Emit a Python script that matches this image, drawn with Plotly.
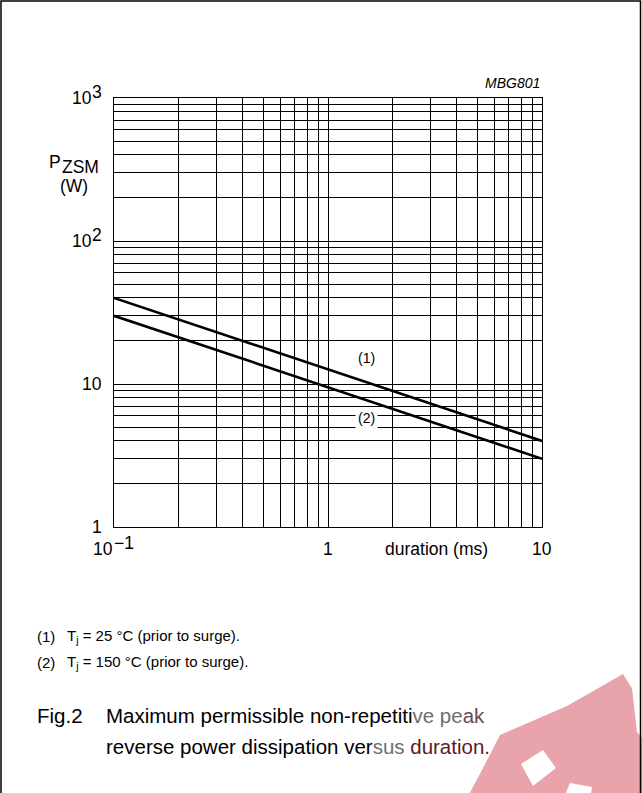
import numpy as np
import plotly.graph_objects as go

# ---- data ----
duration_ms = [0.1, 1, 10]
pzsm_25C = [40, 12.6, 4]
pzsm_150C = [30, 9.5, 3]
y_tick_labels = [(1000, "10", "3"), (100, "10", "2"), (10, "10", ""), (1, "1", "")]
x_tick_labels = [(0.1, "10", "\u22121"), (1, "1", ""), (10, "10", "")]
curve_labels = [(1.51, 15.1, "(1)"), (1.51, 5.74, "(2)")]

W, H = 642, 793
L, R, T, B = 114, 542, 98, 527  # plot area in px

def px(xp):
    return (xp - L) / (R - L)

def py(yp):
    return (B - yp) / (B - T)

FONT = "Liberation Sans, Arial, sans-serif"

ygrid = [d * 10 ** k for k in range(0, 3) for d in range(1, 10)] + [1000]
xgrid = [d * 10 ** k for k in range(-1, 1) for d in range(1, 10)] + [10]

fig = go.Figure()
for ys in (pzsm_25C, pzsm_150C):
    fig.add_trace(go.Scatter(x=duration_ms, y=ys, mode="lines",
                             line=dict(color="black", width=2.6),
                             hoverinfo="skip", showlegend=False))

axis_common = dict(type="log", showgrid=True, gridcolor="black", gridwidth=1,
                   showline=True, linecolor="black", linewidth=1, mirror=True,
                   showticklabels=False, ticks="", zeroline=False, fixedrange=True)
fig.update_xaxes(range=[-1, 1], tickvals=xgrid, **axis_common)
fig.update_yaxes(range=[0, 3], tickvals=ygrid, **axis_common)

ann = []
f16 = dict(family=FONT, size=17.5, color="black")
# y tick labels
for val, base, sup in y_tick_labels:
    if sup:
        ann.append(dict(xref="paper", yref="y", x=0, y=np.log10(val), text=base,
                        xanchor="right", yanchor="middle", xshift=-20, showarrow=False, font=f16))
        ann.append(dict(xref="paper", yref="y", x=0, y=np.log10(val), text=sup,
                        xanchor="right", yanchor="middle", xshift=-10, yshift=6, showarrow=False, font=f16))
    else:
        ann.append(dict(xref="paper", yref="y", x=0, y=np.log10(val), text=base,
                        xanchor="right", yanchor="middle", xshift=-10, showarrow=False, font=f16))
# x tick labels
for val, base, sup in x_tick_labels:
    if sup:
        ann.append(dict(xref="x", yref="paper", x=np.log10(val), y=0, text=base,
                        xanchor="right", yanchor="middle", xshift=1, yshift=-22, showarrow=False, font=f16))
        ann.append(dict(xref="x", yref="paper", x=np.log10(val), y=0, text=sup,
                        xanchor="left", yanchor="middle", xshift=-2, yshift=-16, showarrow=False, font=f16))
    else:
        ann.append(dict(xref="x", yref="paper", x=np.log10(val), y=0, text=base,
                        xanchor="center", yanchor="middle", yshift=-22, showarrow=False, font=f16))
ann.append(dict(xref="paper", yref="paper", x=px(436.5), y=0, text="duration (ms)",
                xanchor="center", yanchor="middle", yshift=-22, showarrow=False, font=f16))
# y title
ann.append(dict(xref="paper", yref="paper", x=px(47), y=py(162), text="P",
                xanchor="left", yanchor="middle", showarrow=False, font=f16))
ann.append(dict(xref="paper", yref="paper", x=px(60), y=py(167), text="ZSM",
                xanchor="left", yanchor="middle", showarrow=False, font=f16))
ann.append(dict(xref="paper", yref="paper", x=px(74), y=py(186), text="(W)",
                xanchor="center", yanchor="middle", showarrow=False, font=f16))
# MBG801
ann.append(dict(xref="paper", yref="paper", x=1, y=py(83), text="<i>MBG801</i>",
                xanchor="right", yanchor="middle", showarrow=False,
                font=dict(family=FONT, size=14, color="black")))
# curve labels
for xv, yv, txt in curve_labels:
    ann.append(dict(xref="x", yref="y", x=np.log10(xv), y=np.log10(yv), text=txt,
                    xanchor="center", yanchor="middle", showarrow=False, bgcolor="white",
                    borderpad=2, font=dict(family=FONT, size=14, color="black")))
# footnotes
f15 = dict(family=FONT, size=15, color="black")
notes = [(636, "(1)", "T<sub>j</sub> = 25 \u00b0C (prior to surge)."),
         (662, "(2)", "T<sub>j</sub> = 150 \u00b0C (prior to surge).")]
for yp, n, t in notes:
    ann.append(dict(xref="paper", yref="paper", x=px(35), y=py(yp), text=n,
                    xanchor="left", yanchor="middle", showarrow=False, font=f15))
    ann.append(dict(xref="paper", yref="paper", x=px(65), y=py(yp), text=t,
                    xanchor="left", yanchor="middle", showarrow=False, font=f15))
# caption (parts under the watermark are tinted as in the scan)
f20 = dict(family=FONT, size=20.5, color="black")
GRAY = "#6e6e6e"
DRED = "#5e1a22"
ann.append(dict(xref="paper", yref="paper", x=px(35), y=py(715), text="Fig.2",
                xanchor="left", yanchor="middle", showarrow=False, font=f20))
ann.append(dict(xref="paper", yref="paper", x=px(104), y=py(715),
                text=f"Maximum permissible non-repetiti<span style='color:{GRAY}'>ve pe</span>"
                     f"<span style='color:#6a4a4e'>ak</span>",
                xanchor="left", yanchor="middle", showarrow=False, font=f20))
ann.append(dict(xref="paper", yref="paper", x=px(104), y=py(746),
                text=f"reverse power dissipation ver<span style='color:{GRAY}'>sus</span> "
                     f"<span style='color:{DRED}'>duration.</span>",
                xanchor="left", yanchor="middle", showarrow=False, font=f20))

shapes = []
# frame
shapes.append(dict(type="path", xref="paper", yref="paper",
                   path=f"M {px(1)} {py(800)} L {px(1)} {py(1)} L {px(640.5)} {py(1)} L {px(640.5)} {py(800)}",
                   line=dict(color="black", width=1.5), layer="above"))

# watermark (approximate)
def poly(pts):
    return "M " + " L ".join(f"{px(a)} {py(b)}" for a, b in pts) + " Z"
RED = "#e9a3aa"
shapes.append(dict(type="path", xref="paper", yref="paper",
                   path=poly([(466, 800), (482, 770), (500, 735), (567, 706), (623, 674),
                              (633, 690), (642, 700), (642, 800)]),
                   fillcolor=RED, line=dict(width=0), layer="below"))
for hole in ([(521, 764), (543, 750), (556, 768), (533, 786)],
             [(563, 800), (570, 783), (592, 787), (590, 800)],
             [(632, 688), (642, 680), (642, 738), (637, 732)]):
    shapes.append(dict(type="path", xref="paper", yref="paper", path=poly(hole),
                       fillcolor="white", line=dict(width=0), layer="below"))

fig.update_layout(width=W, height=H, margin=dict(l=L, r=W - R, t=T, b=H - B, autoexpand=False),
                  paper_bgcolor="white", plot_bgcolor="white",
                  annotations=ann, shapes=shapes, showlegend=False)
fig.write_html("out.html", config={"displayModeBar": False},
               post_script="document.body.style.margin='0';document.body.style.overflow='hidden';")
